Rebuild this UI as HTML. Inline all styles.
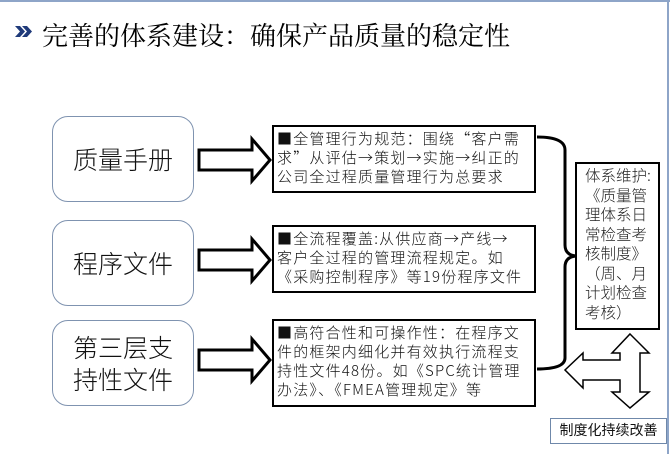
<!DOCTYPE html>
<html><head><meta charset="utf-8"><style>
html,body{margin:0;padding:0;background:#fff;}
body{width:670px;height:454px;position:relative;overflow:hidden;font-family:"Liberation Serif","Noto Serif CJK SC","Noto Sans CJK SC",serif;}
.t{position:absolute;white-space:nowrap;}
.rb{position:absolute;left:52px;width:140px;border:1.5px solid #7f93b0;border-radius:16px;background:#fff;display:flex;align-items:center;justify-content:center;text-align:center;font-family:"Noto Sans CJK SC",sans-serif;font-weight:300;font-size:25px;line-height:32px;color:#111;}
.tb{position:absolute;left:272px;width:264px;border:2px solid #000;background:#fff;font-size:15px;line-height:19px;padding:2px 0 0 3px;box-sizing:border-box;letter-spacing:1.2px;white-space:nowrap;color:#111;font-family:"Noto Sans CJK SC",sans-serif;font-weight:300;overflow:hidden;}
</style></head><body>
<div style="position:absolute;left:0;top:0;width:670px;height:2px;background:#8ea5c8"></div>
<div style="position:absolute;left:667px;top:0;width:2px;height:454px;background:#8ea5c8"></div>
<svg width="20" height="14" style="position:absolute;left:15px;top:26px" xmlns="http://www.w3.org/2000/svg">
<polygon points="0,0 5,0 10,5.5 5,11 0,11 5,5.5" fill="#1f3a7a"/>
<polygon points="7,0 12,0 17,5.5 12,11 7,11 12,5.5" fill="#1f3a7a"/>
</svg>
<div class="t" style="left:42px;top:18px;font-size:26px;line-height:34px;color:#000;font-family:'Noto Serif CJK SC',serif;">完善的体系建设：确保产品质量的稳定性</div>

<div class="rb" style="top:116px;height:84px;">质量手册</div>
<div class="rb" style="top:220px;height:84px;">程序文件</div>
<div class="rb" style="top:320px;height:84px;">第三层支<br>持性文件</div>

<svg width="670" height="454" style="position:absolute;left:0;top:0" xmlns="http://www.w3.org/2000/svg">
<g fill="#fff" stroke="#000" stroke-width="3" stroke-linejoin="miter">
<polygon points="199,150 252,150 252,139 270,160 252,181 252,170 199,170"/>
<polygon points="199,250 252,250 252,239 270,260 252,281 252,270 199,270"/>
<polygon points="199,350 252,350 252,339 270,360 252,381 252,370 199,370"/>
</g>
<path d="M537,137 Q565,137 565,150 L565,245 Q565,255 576,256 Q565,257 565,267 L565,358 Q565,369 537,369" fill="none" stroke="#000" stroke-width="3"/>
<polygon points="630,334 649,353 640,353 640,392 649,392 630,408 612,392 620,392 620,380 583,380 583,388 565,370 583,353 583,360 620,360 620,353 612,353" fill="#fff" stroke="#000" stroke-width="1.5"/>
</svg>

<div class="tb" style="top:125px;height:68px;">■全管理行为规范：围绕“客户需<br>求”从评估→策划→实施→纠正的<br>公司全过程质量管理行为总要求</div>
<div class="tb" style="top:225px;height:68px;">■全流程覆盖:从供应商→产线→<br>客户全过程的管理流程规定。如<br>《采购控制程序》等19份程序文件</div>
<div class="tb" style="top:319px;height:88px;">■高符合性和可操作性：在程序文<br>件的框架内细化并有效执行流程支<br>持性文件48份。如《SPC统计管理<br>办法》、《FMEA管理规定》等</div>

<div style="position:absolute;left:575px;top:162px;width:85px;height:168px;border:2px solid #000;box-sizing:border-box;background:#fff;font-family:'Noto Sans CJK SC',sans-serif;font-weight:300;font-size:15.5px;line-height:19.5px;padding:2px 0 0 8px;white-space:nowrap;color:#222;">体系维护:<br>《质量管<br>理体系日<br>常检查考<br>核制度》<br>（周、月<br>计划检查<br>考核）</div>

<div style="position:absolute;left:550px;top:418px;width:117px;height:26px;border:1.5px solid #6f88aa;box-sizing:border-box;background:#fff;font-family:'Noto Sans CJK SC',sans-serif;font-size:14px;line-height:23px;text-align:center;white-space:nowrap;color:#111;">制度化持续改善</div>
</body></html>
